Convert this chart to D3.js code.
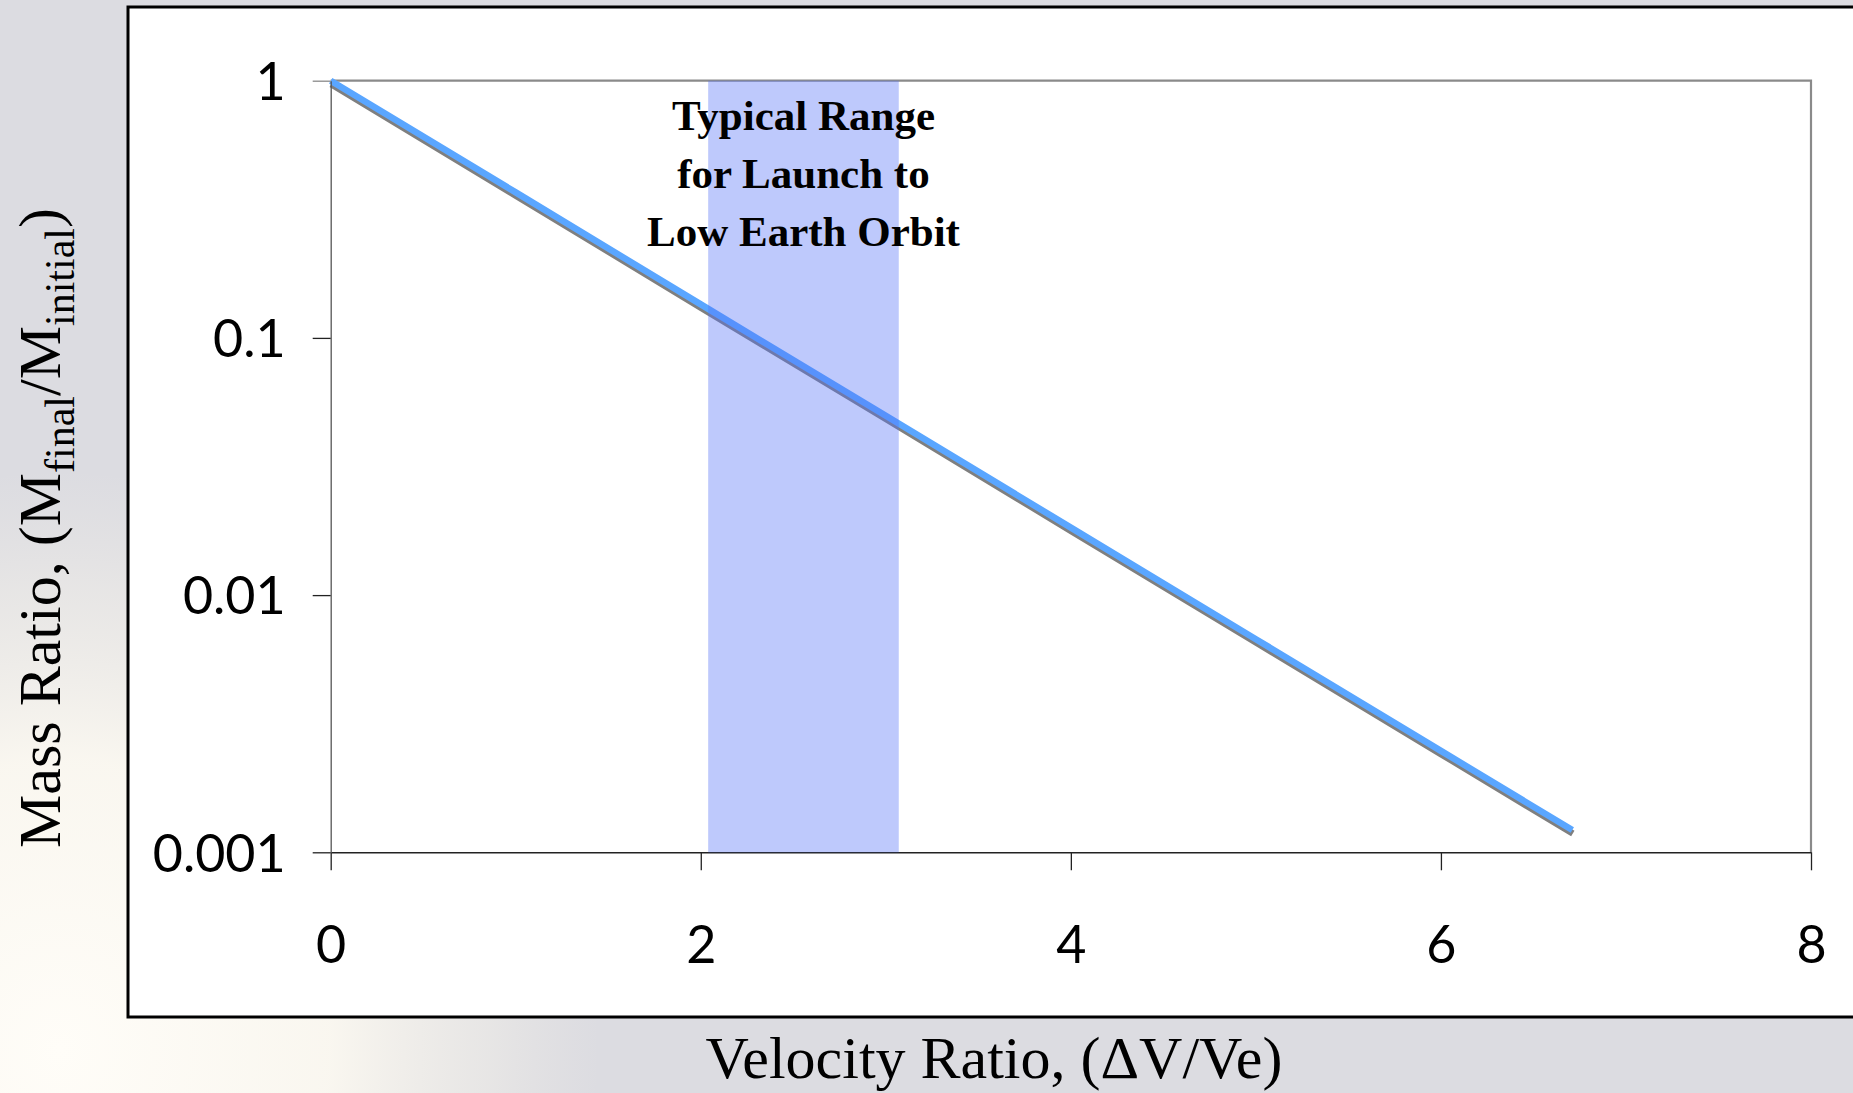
<!DOCTYPE html>
<html>
<head>
<meta charset="utf-8">
<script src="https://cdn.jsdelivr.net/npm/d3@7"></script>
<style>
  html, body { margin: 0; padding: 0; background: #dddde2; overflow: hidden; }
  svg { display: block; }
</style>
</head>
<body>
<svg id="chart" width="1853" height="1093"></svg>
<script>
// Rocket equation: final/initial mass ratio against delta-V / exhaust velocity
const velocityRatio = [0, 1, 2, 3, 4, 5, 6, 6.71];
const massRatio     = [1, 0.368, 0.135, 0.0498, 0.0183, 0.00674, 0.00248, 0.00122];
const leoRange      = [2.04, 3.07];
const xTicks        = [0, 2, 4, 6, 8];
const yTicks        = [1, 0.1, 0.01, 0.001];
const yTickLabels   = ["1", "0.1", "0.01", "0.001"];
const noteLines     = ["Typical Range", "for Launch to", "Low Earth Orbit"];

const svg = d3.select("#chart");
const W = 1853, H = 1093;

// backdrop: grey with a soft warm glow low on the left
const defs = svg.append("defs");
const g1 = defs.append("radialGradient").attr("id", "glowA");
g1.append("stop").attr("offset", "0%").attr("stop-color", "#fffdf8").attr("stop-opacity", 1);
g1.append("stop").attr("offset", "50%").attr("stop-color", "#fcf9f1").attr("stop-opacity", 0.92);
g1.append("stop").attr("offset", "80%").attr("stop-color", "#f4f1ea").attr("stop-opacity", 0.45);
g1.append("stop").attr("offset", "100%").attr("stop-color", "#eeebe6").attr("stop-opacity", 0);

svg.append("rect").attr("width", W).attr("height", H).attr("fill", "#dcdce1");
svg.append("ellipse").attr("cx", 60).attr("cy", 1050).attr("rx", 540).attr("ry", 580).attr("fill", "url(#glowA)");

// white panel
svg.append("rect")
  .attr("x", 128).attr("y", 7).attr("width", W).attr("height", 1010)
  .attr("fill", "#ffffff").attr("stroke", "#000").attr("stroke-width", 3);

// scales
const x = d3.scaleLinear().domain([0, 8]).range([330.7, 1811]);
const y = d3.scaleLog().domain([0.001, 1]).range([852.3, 80.7]);

const pts = velocityRatio.map((v, i) => [v, massRatio[i]]);
const line = d3.line().x(d => x(d[0])).y(d => y(d[1]));

// plot frame: top and right in grey
svg.append("path")
  .attr("d", `M${x(0)},${y(1)}H${x(8)}V${y(0.001)}`)
  .attr("fill", "none").attr("stroke", "#8a8a8a").attr("stroke-width", 2.2);

// curve with drop shadow
svg.append("path").datum(pts)
  .attr("d", line)
  .attr("transform", "translate(0.5,3.5)")
  .attr("fill", "none").attr("stroke", "#7f7f7f").attr("stroke-width", 6.5);
svg.append("path").datum(pts)
  .attr("d", line)
  .attr("fill", "none").attr("stroke", "#5aa6ff").attr("stroke-width", 6.5);

// axes
const fontTicks = "Lato, 'Noto Sans', sans-serif";
const xAxis = svg.append("g")
  .attr("transform", `translate(0,${y(0.001)})`)
  .call(d3.axisBottom(x).tickValues(xTicks).tickFormat(d3.format("d"))
        .tickSize(18).tickSizeOuter(0).tickPadding(56));
xAxis.select(".domain").attr("stroke", "#222").attr("stroke-width", 1.6);
xAxis.selectAll(".tick line").attr("stroke", "#222").attr("stroke-width", 1.3);
xAxis.selectAll(".tick text").attr("font-family", fontTicks).attr("font-size", 52).attr("fill", "#000");

const yAxis = svg.append("g")
  .attr("transform", `translate(${x(0)},0)`)
  .call(d3.axisLeft(y).tickValues(yTicks).tickFormat((d, i) => yTickLabels[i])
        .tickSize(18).tickSizeOuter(0).tickPadding(27));
yAxis.select(".domain").attr("stroke", "#555").attr("stroke-width", 1.3);
yAxis.selectAll(".tick line").attr("stroke", "#222").attr("stroke-width", 1.3);
yAxis.selectAll(".tick text").attr("font-family", fontTicks).attr("font-size", 52).attr("fill", "#000")
  .attr("dy", "0.36em");
yAxis.selectAll(".tick").filter(d => d === 1).select("line").attr("stroke", "#8a8a8a");

// translucent band for the LEO range
svg.append("rect")
  .attr("x", x(leoRange[0])).attr("y", y(1))
  .attr("width", x(leoRange[1]) - x(leoRange[0]))
  .attr("height", y(0.001) - y(1))
  .attr("fill", "rgb(84,112,248)").attr("fill-opacity", 0.38);

// band annotation
const serif = "'Liberation Serif', 'Times New Roman', serif";
svg.append("text")
  .attr("x", (x(leoRange[0]) + x(leoRange[1])) / 2)
  .attr("y", 130)
  .attr("text-anchor", "middle")
  .attr("font-family", serif).attr("font-weight", "bold").attr("font-size", 43)
  .attr("fill", "#000")
  .selectAll("tspan").data(noteLines).join("tspan")
  .attr("x", (x(leoRange[0]) + x(leoRange[1])) / 2)
  .attr("dy", (d, i) => i === 0 ? 0 : 58)
  .text(d => d);

// axis titles
svg.append("text")
  .attr("x", 994).attr("y", 1078)
  .attr("text-anchor", "middle")
  .attr("font-family", serif).attr("font-size", 60).attr("fill", "#000")
  .text("Velocity Ratio, (ΔV/Ve)");

const yt = svg.append("text")
  .attr("transform", "translate(60,528) rotate(-90)")
  .attr("text-anchor", "middle")
  .attr("font-family", serif).attr("font-size", 60).attr("fill", "#000");
yt.append("tspan").text("Mass Ratio, (M");
yt.append("tspan").attr("font-size", 42).attr("dy", 14).text("final");
yt.append("tspan").attr("dy", -14).text("/M");
yt.append("tspan").attr("font-size", 42).attr("dy", 14).text("initial");
yt.append("tspan").attr("dy", -14).text(")");
</script>
</body>
</html>
